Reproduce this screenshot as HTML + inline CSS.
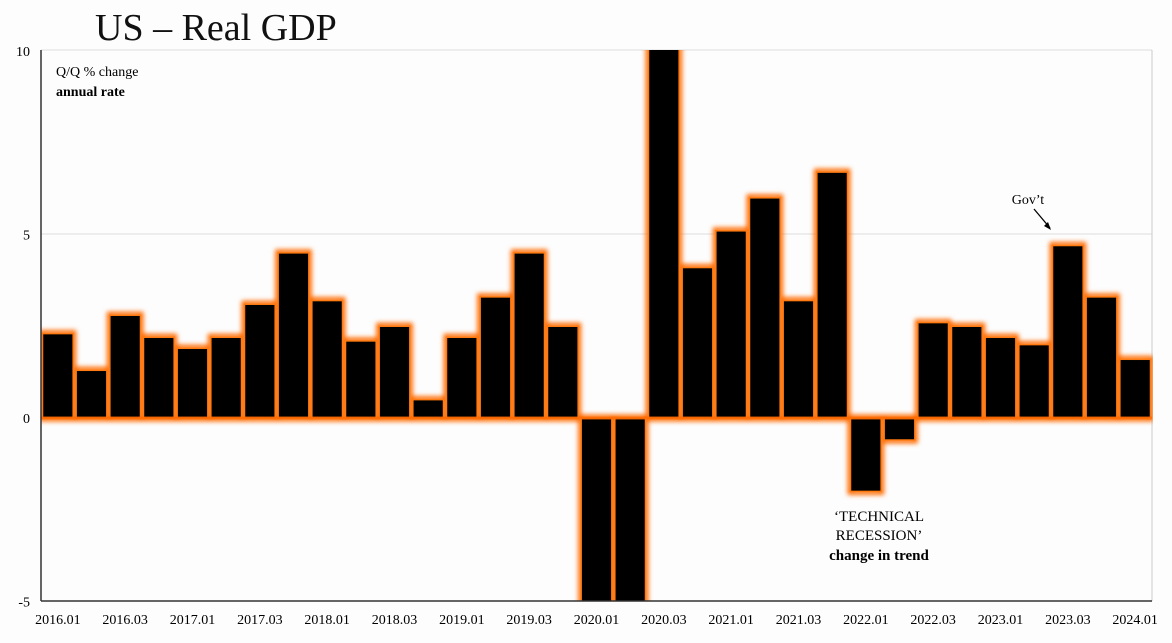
<!DOCTYPE html>
<html><head><meta charset="utf-8"><style>
html,body{margin:0;padding:0;background:#fdfdfd;width:1172px;height:643px;overflow:hidden;}
svg{display:block;font-family:"Liberation Serif",serif;overflow:hidden;}
</style></head><body>
<svg width="1172" height="643">
<defs>
<filter id="glow" x="-30%" y="-10%" width="160%" height="120%">
<feGaussianBlur in="SourceGraphic" stdDeviation="2.5"/>
</filter>
<clipPath id="plot"><rect x="41" y="50" width="1112" height="551"/></clipPath>
</defs>
<text x="95" y="40" font-size="38" fill="#111">US – Real GDP</text>
<line x1="41" y1="234" x2="1152" y2="234" stroke="#ddd" stroke-width="1"/>
<line x1="41" y1="50" x2="1152" y2="50" stroke="#ddd" stroke-width="1"/>
<line x1="1152" y1="50" x2="1152" y2="601" stroke="#ccc" stroke-width="1"/>
<g id="bars" clip-path="url(#plot)"></g>
<g id="axes"></g>
<text x="56" y="76" font-size="14">Q/Q % change</text>
<text x="56" y="96" font-size="14" font-weight="bold">annual rate</text>
<text x="1028" y="204" font-size="14" text-anchor="middle">Gov’t</text>
<path d="M1034 209 L1050 228" stroke="#000" stroke-width="1.3"/>
<path d="M1051 230 L1044 226 L1048 222 Z" fill="#000"/>
<text x="879" y="521" font-size="15" text-anchor="middle">‘TECHNICAL</text>
<text x="879" y="540" font-size="15" text-anchor="middle">RECESSION’</text>
<text x="879" y="560" font-size="15" font-weight="bold" text-anchor="middle">change in trend</text>
</svg>
<script>
const values=[2.3,1.3,2.8,2.2,1.9,2.2,3.1,4.5,3.2,2.1,2.5,0.5,2.2,3.3,4.5,2.5,-5.5,-30,35,4.1,5.1,6.0,3.2,6.7,-2.0,-0.6,2.6,2.5,2.2,2.0,4.7,3.3,1.6];
const xLabels=["2016.01","2016.03","2017.01","2017.03","2018.01","2018.03","2019.01","2019.03","2020.01","2020.03","2021.01","2021.03","2022.01","2022.03","2023.01","2023.03","2024.01"];
const yTicks=[10,5,0,-5];
const NS="http://www.w3.org/2000/svg";
const x0=41,slot=(1152-41)/values.length;
const yMin=-5.3,yMax=10.3;
const clamp=v=>Math.max(yMin,Math.min(yMax,v));
const y=v=>418-clamp(v)*36.7;
const bx=i=>x0+i*slot;
const bars=document.getElementById('bars'),axes=document.getElementById('axes');
function mk(tag,attrs,parent){const e=document.createElementNS(NS,tag);for(const k in attrs)e.setAttribute(k,attrs[k]);parent.appendChild(e);return e;}
const glowG=mk('g',{filter:'url(#glow)'},bars);
values.forEach((v,i)=>{
 const top=Math.min(y(v),y(0)),h=Math.abs(y(v)-y(0));
 const g=mk('rect',{x:bx(i)+1,y:top-1,width:slot-2,height:h+2,fill:'none',stroke:'#ff6a00','stroke-width':5},glowG);
 
 
});
values.forEach((v,i)=>{
 const top=Math.min(y(v),y(0)),h=Math.abs(y(v)-y(0));
 const r=mk('rect',{x:bx(i)+1.5,y:top,width:slot-3,height:h,fill:'#000',stroke:'#ff7a10','stroke-width':1.5},bars);
 
 
});
const zl=mk('line',{x1:x0,y1:y(0),x2:1152,y2:y(0),stroke:'#ff6a00','stroke-width':3,opacity:0.8},bars);


const ya=mk('line',{x1:x0,y1:50,x2:x0,y2:601,stroke:'#333','stroke-width':1.5},axes);


const xa=mk('line',{x1:x0,y1:601,x2:1152,y2:601,stroke:'#333','stroke-width':1.5},axes);


yTicks.forEach(t=>{
 const tx=mk('text',{x:30,y:y(t)+5,'font-size':14,'text-anchor':'end'},axes);tx.textContent=t;
 
 
});
xLabels.forEach((l,j)=>{
 const tx=mk('text',{x:bx(j*2)+slot/2,y:624,'font-size':14,'text-anchor':'middle'},axes);tx.textContent=l;
 
 
});
</script>
</body></html>
